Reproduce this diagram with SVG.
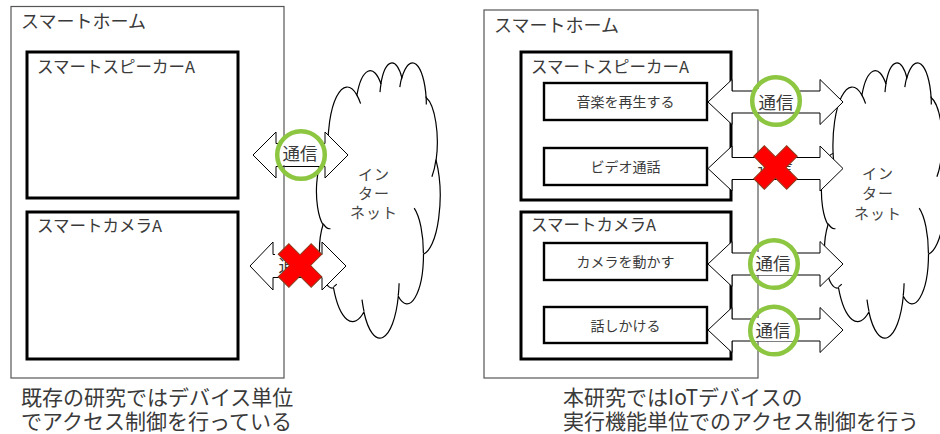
<svg xmlns="http://www.w3.org/2000/svg" width="940" height="434" viewBox="0 0 940 434">
<style>
.t{font-family:"Noto Sans CJK JP","Noto Sans",sans-serif;fill:#3a3a3a}
.outer{fill:none;stroke:#555;stroke-width:1.2}
.dev{fill:#fff;stroke:#000;stroke-width:3}
.fn{fill:#fff;stroke:#000;stroke-width:2.4}
.arrow{fill:#fff;stroke:#000;stroke-width:1}
.cloud{fill:#fff;stroke:#000;stroke-width:1.2}
.inner{fill:none;stroke:#000;stroke-width:1.2}
.ok{fill:none;stroke:#8DC641;stroke-width:4.5}
.ng{fill:#f00;stroke:#8B3A1A;stroke-width:1}
.bg{fill:#fff}
.lbl{font-size:17.5px;text-anchor:middle}
.fnl{font-size:14px;text-anchor:middle}
.cl{font-size:15px;text-anchor:middle;letter-spacing:1px;fill:#444}
.cap{font-size:21px}
</style>
<defs>
<path id="cloudShape" d="M328.1,153.5 A19.23,58.5 0 0 1 356.9,95.1 A15.18,46.26 0 0 1 380.9,83.8 A12.43,37.84 0 0 1 401.9,77.8 A13.83,41.98 0 0 1 426.1,97.5 A15.18,46.3 0 0 1 436.1,160.4 A19.29,58.69 0 0 1 423.5,254.3 A16.47,50.08 0 0 1 398.3,296.3 A19.22,58.66 0 0 1 363.9,312 A21.98,67.11 0 0 1 333.5,287.8 A12.41,37.67 0 0 1 323,224.7 A12.37,37.84 0 0 1 328.1,153.5 Z"/>
<path id="cloudInner" d="M330.4,228.6 A12.37,37.84 0 0 1 323.2,223.6 M336.7,284.2 A12.41,37.67 0 0 1 333.6,286.6 M363.9,310.8 A19.22,58.66 0 0 1 362,299.7 M399.1,283.2 A19.22,58.66 0 0 1 398.3,295.4 M414.2,208.1 A16.47,50.08 0 0 1 423.4,253.5 M436,159.7 A15.18,46.3 0 0 1 431.9,176.8 M426.1,96.5 A13.83,41.98 0 0 1 426.3,104.6 M399.8,87.2 A13.83,41.98 0 0 1 401.9,76.9 M380,92.1 A12.43,37.84 0 0 1 381.1,83.2 M356.9,95.1 A19.23,58.5 0 0 1 360.6,103.6 M328.8,162.5 A19.23,58.5 0 0 1 328.1,153.5"/>
<polygon id="xmark" points="7.5,23.3 7.5,7.5 23.3,7.5 23.3,-7.5 7.5,-7.5 7.5,-23.3 -7.5,-23.3 -7.5,-7.5 -23.3,-7.5 -23.3,7.5 -7.5,7.5 -7.5,23.3"/>
<polygon id="rArrow" points="0,0 24,-22.5 24,-11 112,-11 112,-22.5 135,0 112,22.5 112,11 24,11 24,22.5"/>
</defs>
<rect width="940" height="434" fill="#fff"/>

<!-- Left diagram -->
<g id="left-speaker">
<rect class="dev" x="27" y="52" width="211" height="146"/>
<text class="t" x="37" y="73" font-size="16.5">スマートスピーカーA</text>
</g>
<g id="left-camera">
<rect class="dev" x="27" y="212" width="211" height="147"/>
<text class="t" x="37" y="232" font-size="16.5">スマートカメラA</text>
</g>
<g id="left-cloud">
<use href="#cloudShape" class="cloud"/>
<use href="#cloudInner" class="inner"/>
<text class="t cl" x="374" y="180">イン</text>
<text class="t cl" x="374" y="199">ター</text>
<text class="t cl" x="374" y="218">ネット</text>
</g>

<!-- Right diagram -->
<g id="right-speaker">
<rect class="dev" x="521" y="52" width="210" height="148"/>
<text class="t" x="531" y="73" font-size="16.5">スマートスピーカーA</text>
</g>
<g id="fn-music">
<rect class="fn" x="544" y="83" width="163" height="37"/>
<text class="t fnl" x="625.5" y="107">音楽を再生する</text>
</g>
<g id="fn-video">
<rect class="fn" x="544" y="148" width="163" height="37"/>
<text class="t fnl" x="625.5" y="172">ビデオ通話</text>
</g>
<g id="right-camera">
<rect class="dev" x="521" y="212" width="210" height="147"/>
<text class="t" x="531" y="231" font-size="16.5">スマートカメラA</text>
</g>
<g id="fn-move">
<rect class="fn" x="544" y="243" width="163" height="37"/>
<text class="t fnl" x="625.5" y="267">カメラを動かす</text>
</g>
<g id="fn-talk">
<rect class="fn" x="544" y="307" width="163" height="36"/>
<text class="t fnl" x="625.5" y="331">話しかける</text>
</g>
<g id="right-cloud" transform="translate(505,0)">
<use href="#cloudShape" class="cloud"/>
<use href="#cloudInner" class="inner"/>
<text class="t cl" x="373" y="179">イン</text>
<text class="t cl" x="373" y="199">ター</text>
<text class="t cl" x="373" y="219">ネット</text>
</g>

<!-- Connectors -->
<g id="connectors">
<polygon class="arrow" points="253,155 276,132 276,143.5 325,143.5 325,132 348,155 325,178 325,166.5 276,166.5 276,178"/>
<polygon class="arrow" points="250,266 273,242 273,254.5 322,254.5 322,242 346,266 322,290 322,277.5 273,277.5 273,290"/>
<use href="#rArrow" class="arrow" x="708" y="102"/>
<use href="#rArrow" class="arrow" x="708" y="168.5"/>
<use href="#rArrow" class="arrow" x="708" y="264"/>
<use href="#rArrow" class="arrow" x="708" y="330"/>
</g>

<g id="left-home">
<rect class="outer" x="11" y="6.5" width="273" height="371.5"/>
<text class="t" x="21" y="27.5" font-size="18">スマートホーム</text>
</g>
<g id="right-home">
<rect class="outer" x="484" y="10" width="274" height="368"/>
<text class="t" x="494" y="31.5" font-size="18">スマートホーム</text>
</g>

<!-- Connector labels -->
<g id="labels">
<rect class="bg" x="280" y="140" width="41" height="25"/>
<text class="t lbl" x="300" y="160">通信</text>
<rect class="bg" x="275" y="254" width="45" height="23"/>
<text class="t lbl" x="296" y="272">通信</text>
<rect class="bg" x="756" y="89" width="40" height="23"/>
<text class="t lbl" x="776" y="108.5">通信</text>
<rect class="bg" x="755" y="157" width="41" height="22"/>
<text class="t lbl" x="775" y="175">通信</text>
<rect class="bg" x="753" y="252" width="40" height="23"/>
<text class="t lbl" x="773" y="270">通信</text>
<rect class="bg" x="753" y="318" width="40" height="23"/>
<text class="t lbl" x="773" y="336.5">通信</text>
</g>

<g id="marks">
<circle class="ok" cx="301" cy="155" r="23.8"/>
<circle class="ok" cx="776" cy="101" r="23.8"/>
<circle class="ok" cx="774" cy="264" r="23.8"/>
<circle class="ok" cx="774" cy="330.5" r="23.8"/>
<use href="#xmark" class="ng" transform="translate(300,265.5) rotate(45)"/>
<use href="#xmark" class="ng" transform="translate(775.5,167.5) rotate(45)"/>
</g>

<g id="captions">
<text class="t cap" x="21" y="404.5">既存の研究ではデバイス単位</text>
<text class="t cap" x="21" y="428.5">でアクセス制御を行っている</text>
<text class="t cap" x="563" y="405">本研究ではIoTデバイスの</text>
<text class="t cap" x="563" y="429">実行機能単位でのアクセス制御を行う</text>
</g>
</svg>
